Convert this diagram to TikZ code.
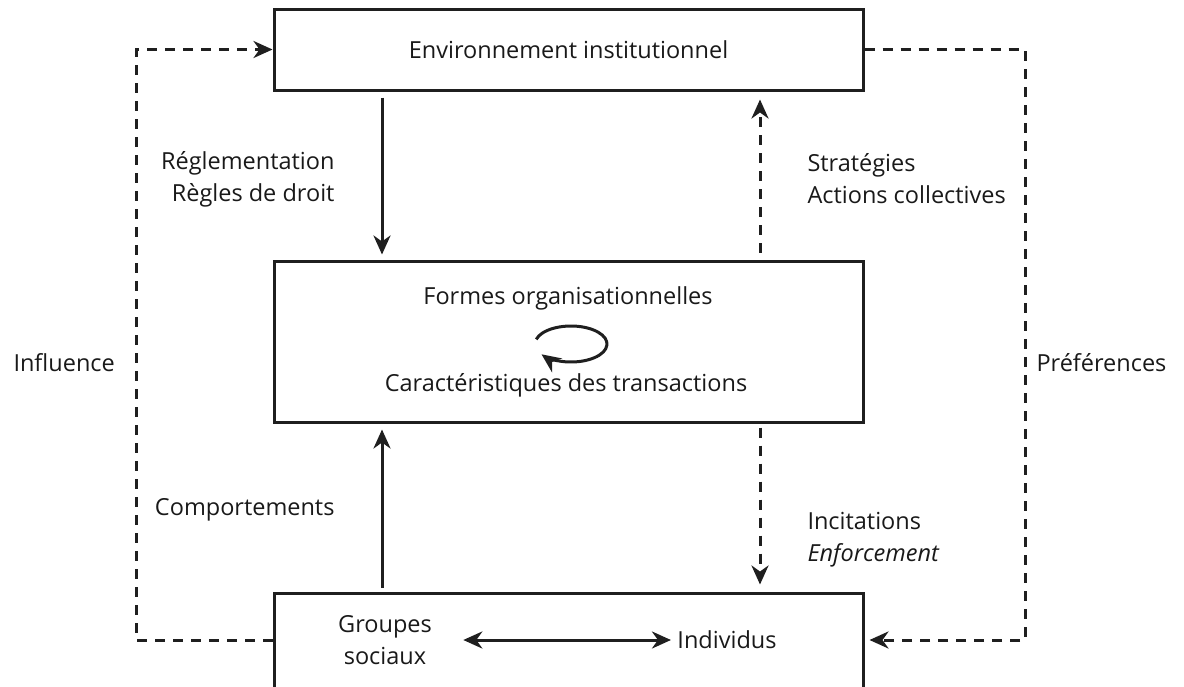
\documentclass[tikz,border=0pt]{standalone}
\usepackage{fontspec}
\setmainfont{Open Sans}
\usetikzlibrary{arrows.meta, calc, positioning}

\begin{document}
\begin{tikzpicture}[x=1pt, y=-1pt, line width=3pt, draw=black!88,
  >={Stealth[length=19pt, width=17pt, inset=6pt]},
  every node/.style={font=\fontsize{23.5}{32}\selectfont, text=black!90},
  bloc/.style={draw, minimum width=589pt, inner sep=0pt},
  etiq/.style={inner sep=0pt},
  tiret/.style={dash pattern=on 10pt off 8pt}]

\useasboundingbox (0,0) rectangle (1184,686);
\clip (0,0) rectangle (1184,686);

% the three boxes
\node (inst)[bloc, minimum height=81pt] at (568.5,49.5) {Environnement institutionnel};
\node (orga)[bloc, minimum height=161pt] at (568.5,341.5) {};
\node (bas)[bloc, minimum height=100pt] at (568.5,643) {};

\node (formes)[etiq] at (568,298) {Formes organisationnelles};
\node (carac)[etiq] at (566,385) {Caractéristiques des transactions};
\draw[->] (571,344) ++(195:36 and 18) arc[start angle=195, end angle=505, x radius=36, y radius=18];

\node (groupes)[etiq, align=center] at (385,640) {Groupes\\sociaux};
\node (indiv)[etiq] at (727,640) {Individus};
\draw[<->, shorten <=30pt, shorten >=5pt] (groupes.east |- indiv) -- (indiv.west);

% vertical links
\coordinate (gx) at (382,0);
\coordinate (dx) at (760,0);
\draw[->, shorten <=6pt, shorten >=5pt] (inst.south -| gx) -- (orga.north -| gx);
\draw[->, tiret, shorten <=7pt, shorten >=8pt] (orga.north -| dx) -- (inst.south -| dx);
\draw[->, tiret, shorten <=4pt, shorten >=7pt] (orga.south -| dx) -- (bas.north -| dx);
\draw[->, shorten <=4pt, shorten >=6pt] (bas.north -| gx) -- (orga.south -| gx);

\node (regl)[etiq, anchor=east, align=right] at (336,179) {Réglementation\\Règles de droit};
\node (strat)[etiq, anchor=west, align=left] at (806,179) {Stratégies\\Actions collectives};
\node (compo)[etiq, anchor=east] at (336,510) {Comportements};
\node (incit)[etiq, anchor=west, align=left] at (806,540) {Incitations\\\textit{Enforcement}};

% outer loops
\coordinate (gauche) at (136,0);
\coordinate (droite) at (1025,0);
\draw[->, tiret] (bas.west |- indiv) -- (gauche |- indiv) -- (gauche |- inst) -- (inst.west);
\draw[->, tiret, shorten >=5pt] (inst.east) -- (droite |- inst) -- (droite |- indiv) -- (bas.east |- indiv);

\node (infl)[etiq, anchor=west] at (12,363) {Influence};
\node (pref)[etiq, anchor=west] at (1035,363) {Préférences};
\end{tikzpicture}
\end{document}
